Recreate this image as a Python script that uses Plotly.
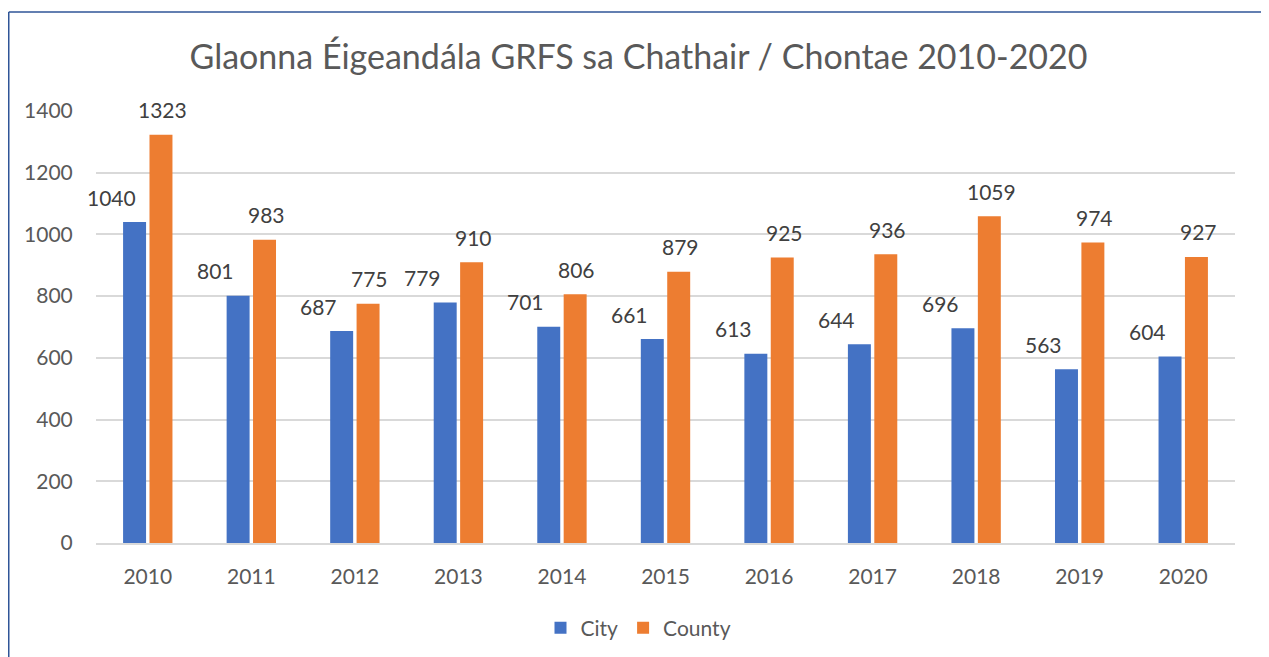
import plotly.graph_objects as go

years = ["2010", "2011", "2012", "2013", "2014", "2015", "2016", "2017", "2018", "2019", "2020"]
city = [1040, 801, 687, 779, 701, 661, 613, 644, 696, 563, 604]
county = [1323, 983, 775, 910, 806, 879, 925, 936, 1059, 974, 927]
title_text = "Glaonna Éigeandála GRFS sa Chathair / Chontae 2010-2020"

FONT = "Lato"
GREY = "#595959"
OFF = 8  # page body margin
W, H = 1269 - OFF, 657 - OFF
L, R, T, B = 96 - OFF, 34, 111 - OFF, 114

fig = go.Figure()
fig.add_trace(go.Bar(name="City", x=years, y=city, marker=dict(color="#4472C4", line=dict(width=0))))
fig.add_trace(go.Bar(name="County", x=years, y=county, marker=dict(color="#ED7D31", line=dict(width=0))))

for i, (c, k) in enumerate(zip(city, county)):
    fig.add_annotation(x=i, y=c, text=str(c), showarrow=False, xshift=-36, yshift=25,
                       yanchor="middle", font=dict(family=FONT, size=21, color="#404040"))
    fig.add_annotation(x=i, y=k, text=str(k), showarrow=False, xshift=15, yshift=25,
                       yanchor="middle", font=dict(family=FONT, size=21, color="#404040"))

pw = W - L - R
ph = H - T - B
def px(xp):  # figure pixel -> paper fraction (x)
    return (xp - L) / pw
def py(yp):  # figure pixel (from top) -> paper fraction (y)
    return (H - B - yp) / ph

border = dict(color="#2F5597", width=1.5)
x_left, x_right, y_top, y_bot = 0.75, 1263.5 - OFF, 12 - OFF, H + 20
fig.add_shape(type="line", xref="paper", yref="paper", x0=px(x_left), x1=px(x_right),
              y0=py(y_top), y1=py(y_top), line=border, layer="above")
fig.add_shape(type="line", xref="paper", yref="paper", x0=px(x_left), x1=px(x_left),
              y0=py(y_top), y1=py(y_bot), line=border, layer="above")
fig.add_shape(type="line", xref="paper", yref="paper", x0=px(x_right), x1=px(x_right),
              y0=py(y_top), y1=py(y_bot), line=border, layer="above")

fig.update_layout(
    width=W, height=H,
    margin=dict(l=L, r=R, t=T, b=B, autoexpand=False),
    paper_bgcolor="white", plot_bgcolor="white",
    barmode="group", bargap=0.49, bargroupgap=0.13,
    title=dict(text=title_text, x=0.5, xref="container", xanchor="center",
               y=1 - (57 - OFF) / H, yref="container", yanchor="middle",
               font=dict(family=FONT, size=34, color=GREY)),
    font=dict(family=FONT, size=21, color=GREY),
    showlegend=True,
    legend=dict(orientation="h", x=0.5, xref="container", xanchor="center",
                y=1 - (628 - OFF) / H, yref="container", yanchor="middle",
                font=dict(family=FONT, size=21, color=GREY), itemwidth=30),
    xaxis=dict(type="category", range=[-0.5, len(years) - 0.5], showgrid=False,
               ticks="outside", ticklen=14, tickcolor="rgba(0,0,0,0)",
               showline=True, linecolor="#D9D9D9", linewidth=1.5,
               tickfont=dict(family=FONT, size=21, color=GREY)),
    yaxis=dict(range=[0, 1400], dtick=200, showgrid=True, gridcolor="#D9D9D9", gridwidth=1.5,
               zeroline=False, showline=False, ticks="outside", ticklen=18,
               tickcolor="rgba(0,0,0,0)",
               tickfont=dict(family=FONT, size=21, color=GREY)),
)

fig.write_html("out.html")
